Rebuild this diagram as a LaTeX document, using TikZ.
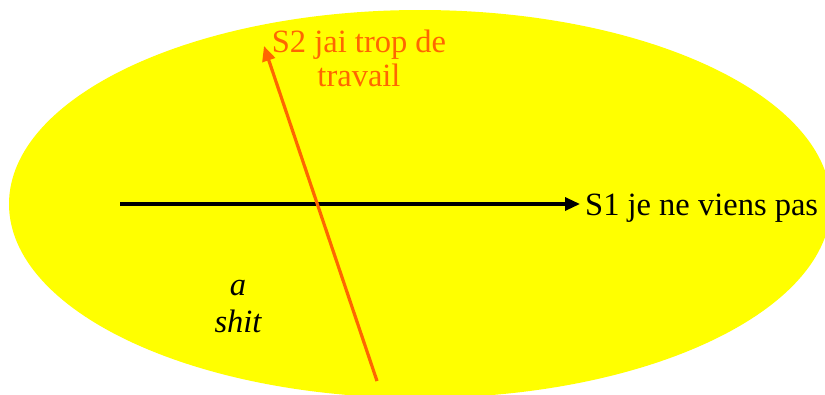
\documentclass[tikz,border=0pt]{standalone}
\usepackage{fontspec}
\setmainfont{Liberation Serif}
\usetikzlibrary{arrows.meta}
\definecolor{yel}{RGB}{255,255,0}
\definecolor{orng}{RGB}{255,102,0}
\tikzset{
  lbl/.style={font=\fontsize{32.5}{36}\selectfont, inner sep=0pt, anchor=base},
  arr/.style={line width=3.2pt, -{Triangle[length=15pt,width=13pt]}}
}
\begin{document}
\begin{tikzpicture}[x=1pt,y=-1pt]
\useasboundingbox (0,0) rectangle (825,394);
\clip (0,0) rectangle (825,394);
\fill[yel] (420,204) ellipse [x radius=411pt, y radius=194pt];
% labels
\node[lbl, anchor=base west] (s1) at (585,215) {S1 je ne viens pas};
\node[lbl, text=orng] (s2a) at (359,52) {S2 jai trop de};
\node[lbl, text=orng] (s2b) at (359,86) {travail};
\node[lbl, font=\fontsize{32.5}{36}\selectfont\itshape] (ta) at (238,295) {a};
\node[lbl, font=\fontsize{32.5}{36}\selectfont\itshape] (tb) at (238,332) {shit};
% connectors
\coordinate (a1) at (120,204);
\coordinate (a2) at (580,204);
\coordinate (b1) at (377,381);
\coordinate (b2) at (264,46);
\draw[arr, black] (a1) -- (a2);
\draw[arr, orng] (b1) -- (b2);
\end{tikzpicture}
\end{document}
